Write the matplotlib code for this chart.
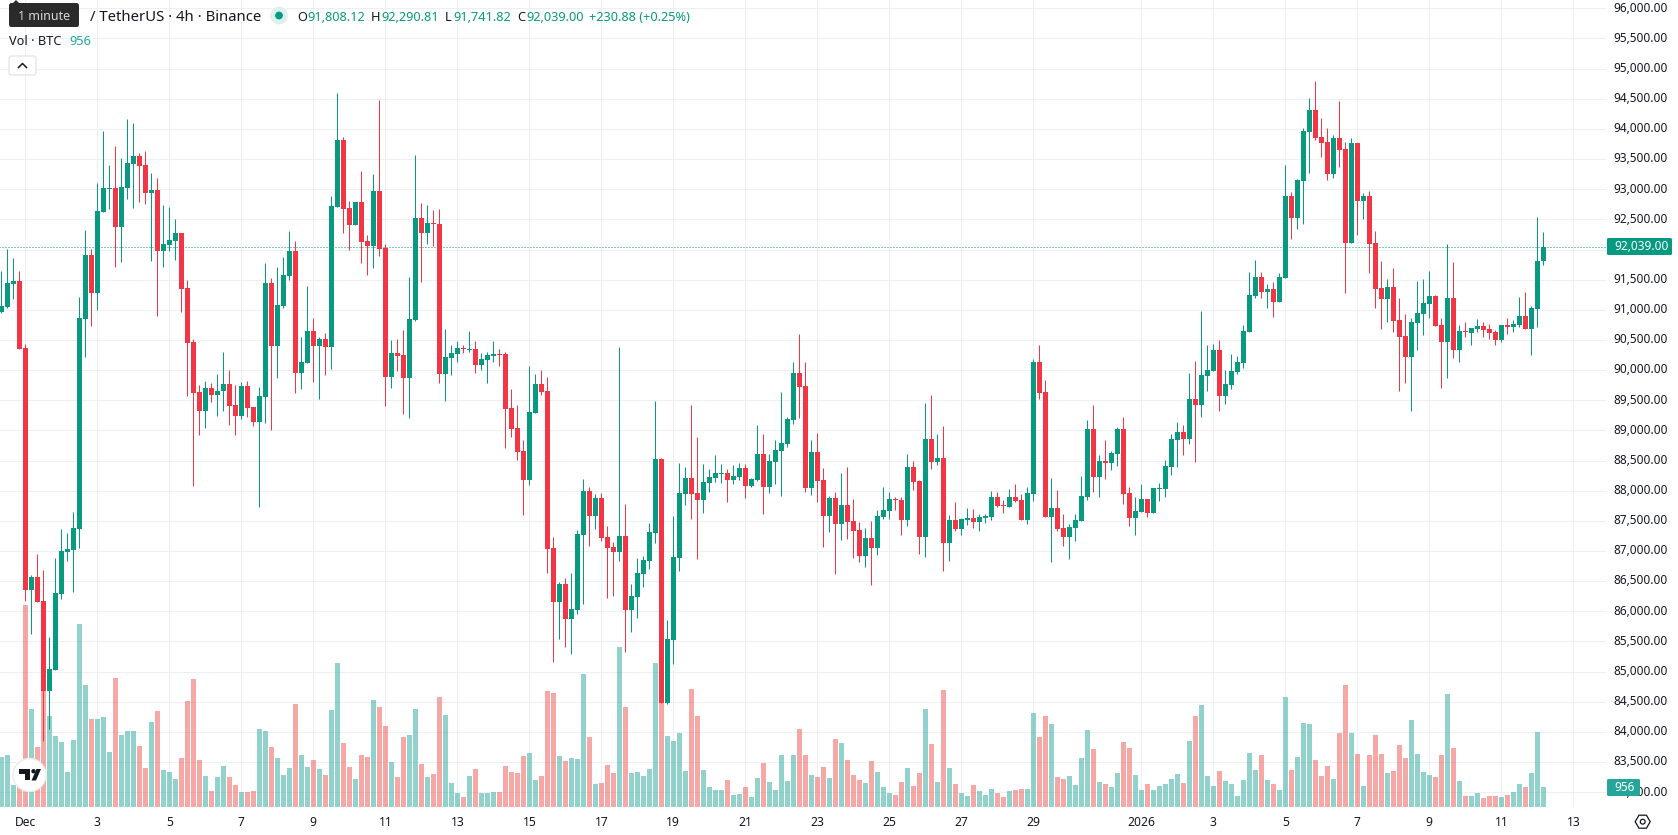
import matplotlib
matplotlib.use("Agg")
import matplotlib.pyplot as plt
from matplotlib.patches import Circle, FancyBboxPatch, Polygon, Rectangle, RegularPolygon
from matplotlib.transforms import ScaledTranslation

plt.rcParams["font.family"] = ["Noto Sans", "DejaVu Sans"]

# 4h BTC/USDT candles, oldest first
opens = [
    90965,91048,91435,91478,90368,86361,86571,86173,84680,85029,
    86289,86985,87018,87367,90849,91910,91280,92623,93004,93021,
    92374,93021,93419,93551,93402,92938,92988,91976,92076,92142,
    92275,91363,90467,89638,89323,89705,89588,89655,89771,89423,
    89240,89738,89390,89141,89555,91446,90401,91064,91561,91976,
    89953,90119,90650,90401,90517,90384,92706,93817,92689,92407,
    92789,92142,92059,92971,92026,89887,90285,90252,89870,90832,
    92523,92275,92440,92424,89937,90202,90269,90368,90335,90351,
    90086,90169,90235,90269,90269,89373,89042,88660,88180,89290,
    89771,89655,87052,86157,86455,85875,86024,87267,87997,87583,
    87881,87234,87068,86986,87251,86024,86240,86621,86836,87301,
    88528,84482,85526,86886,87947,88213,87964,87848,88130,88213,
    88279,88296,88180,88229,88378,88080,88180,88611,88063,88478,
    88660,88776,89174,89954,89738,88047,88644,88180,87583,87881,
    87450,87765,87500,87350,86919,87218,87052,87566,87665,87864,
    87848,87516,88395,88163,87234,88859,88478,88544,87135,87516,
    87367,87516,87549,87483,87549,87566,87897,87765,87732,87897,
    87848,87516,87947,90136,89639,87566,87715,87384,87234,87384,
    87500,87897,89025,88229,88494,88461,88611,89025,87964,87549,
    87649,87864,87632,88030,88030,88395,88843,88975,88859,89522,
    89423,89904,89987,90335,89572,89755,89970,90119,90633,91230,
    91545,91296,91346,91130,91528,92888,92523,93137,93949,94314,
    93866,93783,93253,93850,93667,92109,93767,92805,92888,92109,
    91363,91180,91379,90832,90567,90219,90782,90931,91097,91230,
    90749,90467,91197,90335,90650,90616,90683,90732,90683,90633,
    90500,90749,90716,90749,90898,90683,91014,91808.12,
]
highs = [
    91644,92004,91860,91644,90429,86604,86952,86687,85576,86886,
    87367,87300,87649,91213,92324,92004,93104,93966,93402,93717,
    93518,94165,94099,93601,93634,93269,93187,92739,92706,92507,
    92275,91495,90517,89754,89821,89788,89937,90302,90003,89754,
    89804,89821,89390,89721,91777,91528,91711,91877,92308,92142,
    90550,91396,90865,90550,90617,92888,94596,93866,92805,92789,
    93303,92241,93253,94480,92092,90500,90517,90666,91545,93568,
    92772,92739,92656,92673,90683,90418,90484,90418,90650,90484,
    90285,90302,90484,90351,90302,89688,89423,88843,90070,89937,
    90003,89887,87234,86488,86554,86637,87350,88196,88063,87947,
    87964,87417,87151,90385,87781,86455,86886,86919,87466,89489,
    88544,85858,87583,88461,88395,89423,88892,88445,88362,88594,
    88445,88362,88428,88461,88445,88213,89091,88942,88611,88843,
    89639,89224,90136,90600,90136,88843,88959,88378,87914,87980,
    88296,88395,87864,87483,87384,87500,87682,88063,87980,87897,
    87897,88611,88494,88180,89456,89589,88942,89075,87599,87815,
    87549,87715,87699,87616,87616,87997,87980,87848,88030,88113,
    87947,88063,90186,90418,89837,88213,88014,87616,87450,87616,
    88246,89174,89423,88594,88843,88660,89058,89224,88063,87897,
    88113,87864,88047,88130,88511,88942,89141,89091,89954,90153,
    90982,90418,90434,90501,90003,90269,90235,90749,91628,91827,
    91628,91429,91462,91611,93402,92954,93170,94015,94513,94795,
    94181,94015,93899,94463,93783,93850,93767,92938,92971,92308,
    91810,91512,91694,91197,90931,90865,91479,91512,91645,91246,
    90865,92092,91794,90749,90799,90699,90849,90799,90766,90666,
    90749,90865,90832,91213,91296,91064,92540,92290.81,
]
lows = [
    90943,91026,91180,90351,86173,85626,86156,83851,84051,85029,
    86206,86836,86322,87052,90219,90733,90998,92623,92673,91711,
    91794,92838,92689,92789,92756,91810,90898,91711,91976,91827,
    90965,89572,88085,88925,89041,89472,89240,89323,89091,88925,
    89191,89224,89075,87731,89124,89008,89870,91031,91495,89622,
    89688,90119,89804,89522,89920,90020,92706,92275,91993,92407,
    91777,91578,91694,91893,89406,89705,89986,89273,89207,90816,
    91462,92092,92059,89788,89489,89920,90136,90285,90302,89954,
    90003,89788,90136,90070,88710,88892,88511,87599,88097,89290,
    89589,86637,85162,85543,85410,85294,85958,86123,87085,87367,
    87168,86223,86256,86836,85328,85659,85891,86405,86704,87135,
    84482,84465,85129,86671,87765,87533,86870,87632,87980,88146,
    88130,87815,88113,88180,87881,88063,88163,87616,87964,88113,
    87914,88727,89108,89207,87980,87931,87815,87068,87317,86621,
    87185,87201,86886,86820,86737,86438,86936,87533,87533,87682,
    87267,87417,88014,86952,86903,88362,88428,86671,86836,87334,
    87267,87433,87384,87334,87466,87516,87732,87632,87732,87815,
    87516,87450,87831,89522,87566,86820,87334,87085,86870,87168,
    87500,87848,87980,87897,88196,88345,88412,87781,87417,87267,
    87649,87566,87632,87831,87897,88262,88395,88594,88776,88478,
    89224,89655,89987,89324,89440,89688,89937,90037,90633,91197,
    91197,91031,90882,91130,91528,92175,92341,92424,93269,93816,
    93535,93153,93186,93369,91280,92109,92241,92507,91611,91031,
    90683,90799,90633,89655,89787,89323,90335,90583,90865,90732,
    89704,89870,90202,90136,90550,90417,90633,90550,90517,90417,
    90467,90600,90633,90716,90683,90252,90716,91741.82,
]
closes = [
    91064,91445,91478,90351,86361,86571,86156,84680,85045,86306,
    87002,87035,87383,90865,91910,91280,92639,93021,93021,92374,
    93037,93435,93551,93386,92938,92988,91976,92092,92159,92275,
    91346,90451,89622,89323,89705,89588,89655,89771,89406,89240,
    89738,89373,89141,89572,91446,90401,91081,91578,91976,89953,
    90136,90650,90401,90517,90384,92722,93817,92673,92407,92789,
    92125,92059,92971,92009,89887,90285,90235,89870,90849,92523,
    92275,92440,92424,89937,90219,90285,90368,90351,90351,90086,
    90186,90252,90269,90252,89357,89025,88644,88180,89307,89771,
    89639,87035,86157,86455,85875,86040,87284,87997,87583,87881,
    87218,87052,86986,87251,86024,86256,86637,86853,87317,88528,
    84482,85543,86903,87964,88213,87947,87848,88146,88229,88296,
    88296,88180,88246,88378,88080,88196,88611,88063,88494,88677,
    88793,89191,89954,89721,88047,88644,88163,87583,87881,87450,
    87765,87483,87334,86919,87218,87052,87583,87682,87864,87848,
    87516,88395,88146,87234,88859,88478,88544,87135,87516,87367,
    87533,87549,87483,87566,87583,87897,87748,87748,87897,87831,
    87516,87964,90136,89622,87566,87715,87367,87234,87400,87516,
    87914,89025,88229,88494,88461,88627,89025,87947,87549,87665,
    87864,87632,88047,88047,88412,88859,88975,88859,89522,89423,
    89920,90003,90335,89572,89771,89987,90136,90650,91246,91545,
    91296,91346,91130,91545,92888,92523,93153,93966,94314,93850,
    93767,93253,93850,93651,92109,93767,92805,92888,92092,91346,
    91180,91379,90815,90550,90219,90799,90948,91114,91230,90732,
    90467,91197,90335,90650,90633,90699,90732,90666,90616,90500,
    90749,90716,90766,90898,90683,91031,91808.12,92039.00,
]
volumes = [
    2414,2511,1053,1296,9801,4747,2900,5621,4406,3434,
    3143,1685,3240,8878,5913,4261,4261,4358,2657,6253,
    3483,3677,3677,2948,1879,4115,4649,1782,1685,1345,
    2365,5135,6205,2268,1490,761,1442,1976,1442,1053,
    713,713,761,3775,3677,2900,2365,1539,1879,4990,
    2511,1928,2268,1831,1539,4698,6982,3094,1928,1345,
    2511,2414,5184,4844,3920,2171,1442,3386,3483,4747,
    2074,1442,1588,5330,4455,1150,664,470,1490,1831,
    664,664,713,713,1976,1685,1636,2462,2608,1296,
    1490,5621,5524,2462,2219,2365,2317,6448,3386,1102,
    1150,2025,1636,7760,4844,1636,1685,1490,1831,6982,
    5346,3434,3191,3580,1733,5719,4406,1782,956,810,
    810,1296,567,616,956,470,1393,2122,1199,810,
    2511,1247,2511,3775,2511,1539,1442,1928,1393,3289,
    3094,2268,1539,1296,1150,2219,1685,956,664,567,
    1199,1879,1004,1636,4747,3046,1199,5670,1879,1102,
    664,518,1053,761,567,859,664,470,761,810,
    859,859,4552,3386,4406,4018,1442,1345,1490,1053,
    2365,3726,2803,1199,1102,956,1636,3143,2851,1539,
    810,1102,810,1004,1102,1345,1588,1150,3191,4406,
    4941,1490,1004,1733,1247,1102,518,1296,2608,1782,
    2511,1296,1102,810,5330,1782,2414,4066,4018,2268,
    1490,1976,1345,3580,5913,3580,2560,1004,2511,3483,
    2560,1636,1733,2997,2365,4212,2560,1685,1539,1442,
    2511,5476,2851,1247,518,518,664,421,518,518,
    470,567,713,1102,956,1636,3629,956,
]

# Calendar labels sit on every twelfth 4h candle, apart from the year change
tick_bars = [4, 16, 28, 40, 52, 64, 76, 88, 100, 112, 124, 136, 148, 160, 172,
             190, 202, 214, 226, 238, 250, 262]
tick_labels = ["Dec", "3", "5", "7", "9", "11", "13", "15", "17", "19", "21", "23",
               "25", "27", "29", "2026", "3", "5", "7", "9", "11", "13"]
price_ticks = list(range(83000, 96001, 500))

UP, DOWN = "#089981", "#F23645"
VOL_UP, VOL_DOWN = "#26A69A", "#EF5350"
GRID = "#EEEFF2"
INK = "#131722"
W, H = 1678, 835
PANE_W, PANE_H = 1606, 807
px = 72 / 100  # one screen pixel in points

fig = plt.figure(figsize=(W / 100, H / 100), dpi=100, facecolor="white")
ax = fig.add_axes([0, 1 - PANE_H / H, PANE_W / W, PANE_H / H], zorder=2)
ax.set_facecolor("none")
vol = fig.add_axes(ax.get_position(), zorder=1, sharex=ax)
vol.set_facecolor("white")

ax.set_xlim(-0.222, 267.44)
ax.set_ylim(82755, 96138)
vol.set_ylim(0, 39140)

for a in (ax, vol):
    for s in a.spines.values():
        s.set_visible(False)

# Grid goes on the volume axes so that it stays under everything else
for b in tick_bars:
    vol.axvline(b, color=GRID, lw=px, zorder=0)
for p in price_ticks:
    vol.plot([-1, 268], [(p - 82755) / 13383 * 39140] * 2, color=GRID, lw=px, zorder=0)

index = range(len(opens))
rising = [c >= o for o, c in zip(opens, closes)]
vol.bar(index, volumes, width=5 / 6, linewidth=0, alpha=0.5,
        color=[VOL_UP if r else VOL_DOWN for r in rising], zorder=1)

# Last price marker line
ax.plot([-1, 268], [closes[-1]] * 2, color=UP, lw=px, ls=(0, (1, 2)), zorder=1)

candle_colors = [UP if r else DOWN for r in rising]
ax.vlines(index, lows, highs, colors=candle_colors, linewidth=px, zorder=2)
ax.bar(index, [abs(c - o) for o, c in zip(opens, closes)],
       bottom=[min(o, c) for o, c in zip(opens, closes)],
       width=5 / 6, color=candle_colors, linewidth=0, zorder=3)

# Axis text; the 92,000 level is covered by the last price tag, so it stays blank
ax.yaxis.tick_right()
ax.set_yticks(price_ticks)
ax.set_yticklabels(["" if p == 92000 else f"{p:,.2f}" for p in price_ticks],
                   fontsize=8.5, color=INK)
ax.tick_params(axis="y", length=0, pad=5.6)
ax.set_xticks(tick_bars)
ax.set_xticklabels(tick_labels, fontsize=8.7, color=INK)
ax.get_xticklabels()[tick_labels.index("2026")].set_fontweight("bold")
ax.tick_params(axis="x", length=0, pad=6.2)
vol.tick_params(left=False, bottom=False, labelleft=False, labelbottom=False)

# Price labels ride slightly above their grid lines
lift = ScaledTranslation(0, 1.7 / 100, fig.dpi_scale_trans)
for tick in ax.yaxis.get_major_ticks():
    tick.label2.set_transform(tick.label2.get_transform() + lift)

# Overlay measured in screen pixels for the header and widgets
ui = fig.add_axes([0, 0, 1, 1], zorder=5)
ui.set_xlim(0, W)
ui.set_ylim(H, 0)
ui.axis("off")

TEAL = "#089981"
ui.text(261, 17.3, "/ TetherUS · 4h · Binance", ha="right", va="center",
        fontsize=10.7, color=INK)
ui.add_patch(Circle((279, 15.5), 8.8, fc="#DCF1EE", ec="none"))
ui.add_patch(Circle((279, 15.5), 3.9, fc=TEAL, ec="none"))

header = [(297, "O", INK), (307, "91,808.12", TEAL), (371, "H", INK), (381, "92,290.81", TEAL),
          (445, "L", INK), (453, "91,741.82", TEAL), (517, "C", INK), (526, "92,039.00", TEAL),
          (589, "+230.88 (+0.25%)", TEAL)]
for x, s, c in header:
    ui.text(x, 17.5, s, ha="left", va="center", fontsize=9.2, color=c)

ui.text(9, 41.5, "Vol · BTC", ha="left", va="center", fontsize=9.2, color=INK)
ui.text(69, 41.5, "956", ha="left", va="center", fontsize=9.2, color="#26A69A")

# Collapse button
ui.add_patch(FancyBboxPatch((9, 56), 27, 19, boxstyle="round,pad=0,rounding_size=2.5",
                            fc="white", ec="#E0E3EB", lw=0.9))
ui.plot([18.5, 22.5, 26.5], [67.5, 63.5, 67.5], color=INK, lw=1.1)

# Hover tooltip
ui.add_patch(Polygon([(12, 4), (16, 0), (20, 4)], fc="#2A2A2A", ec="none", zorder=6))
ui.add_patch(FancyBboxPatch((9, 3), 70, 24, boxstyle="round,pad=0,rounding_size=2.5",
                            fc="#2A2A2A", ec="none", zorder=6))
ui.text(44, 16.5, "1 minute", ha="center", va="center", fontsize=9, color="#D6D6D6", zorder=7)

# Value tags on the price scale
ui.add_patch(FancyBboxPatch((1607, 238), 65, 17, boxstyle="round,pad=0,rounding_size=1.5",
                            fc=TEAL, ec="none"))
ui.text(1614, 246.8, f"{closes[-1]:,.2f}", ha="left", va="center", fontsize=8.5, color="white")
ui.add_patch(FancyBboxPatch((1607, 779), 33, 17, boxstyle="round,pad=0,rounding_size=1.5",
                            fc="#26A69A", ec="none"))
ui.text(1614, 787.8, f"{volumes[-1]:.0f}", ha="left", va="center", fontsize=8.5, color="white")

# Attribution badge
ui.add_patch(Circle((29.5, 775), 16.5, fc="white", ec="#ECECEC", lw=1))
ui.add_patch(Rectangle((19, 769), 11, 4.5, fc="#131722", ec="none"))
ui.add_patch(Rectangle((25, 769), 5, 11, fc="#131722", ec="none"))
ui.add_patch(Circle((33.5, 771.2), 2.2, fc="#131722", ec="none"))
ui.add_patch(Polygon([(36.5, 769), (41, 769), (36, 780.5), (31.5, 780.5)], fc="#131722", ec="none"))

# Chart settings icon
ui.add_patch(RegularPolygon((1642.7, 821.7), 6, radius=7.5, orientation=0.5236,
                            fc="none", ec=INK, lw=0.9))
ui.add_patch(Circle((1642.7, 821.7), 2.4, fc="none", ec=INK, lw=0.9))

fig.savefig("out.png", dpi=100)
